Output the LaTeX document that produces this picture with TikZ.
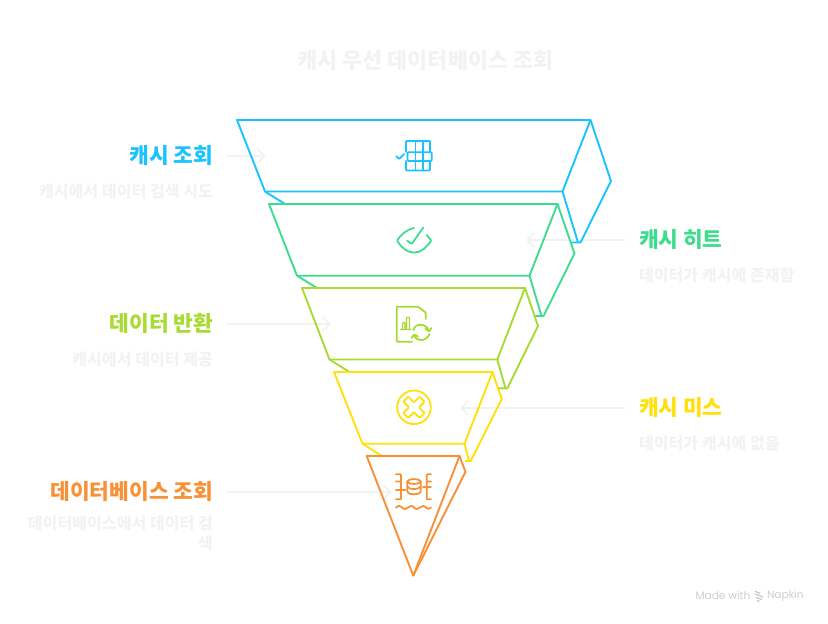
\documentclass[tikz,border=0pt]{standalone}
\usepackage{fontspec}
\setmainfont{Noto Sans CJK KR}
\newfontfamily\markfont{Poppins}
\usetikzlibrary{arrows.meta,positioning,calc}
\definecolor{cacheblue}{HTML}{1AC3FF}
\definecolor{hitgreen}{HTML}{3FDC90}
\definecolor{returnlime}{HTML}{A8DB32}
\definecolor{missyellow}{HTML}{FFE00A}
\definecolor{dborange}{HTML}{F89036}
\definecolor{pale}{HTML}{F2F2F2}
\definecolor{markgray}{HTML}{CDCDCD}
\newcommand{\HeadSize}{\fontsize{21.4}{25}\selectfont\bfseries}
\newcommand{\DescSize}{\fontsize{16.1}{19.5}\selectfont\bfseries}

\begin{document}
\begin{tikzpicture}[
  x=1pt,y=-1pt,
  every node/.style={inner sep=0pt,outer sep=0pt},
  arr/.style={pale,line width=1.8pt,-{Straight Barb[length=7pt,width=14pt,line width=1.8pt]}},
  face/.style={line width=1.9pt,line join=round},
  icon/.style={line width=1.8pt,line cap=round,line join=round,rounded corners=0.8pt},
  head/.style={font=\HeadSize,text height=18pt,text depth=4pt},
  desc/.style={font=\DescSize,text=pale,align=right}
]
\useasboundingbox (0,0) rectangle (828,624);

\node[font=\fontsize{21.8}{25}\selectfont\bfseries,text=pale] (titleText) at (425.5,60) {캐시 우선 데이터베이스 조회};

% labels on the left
\node[head,text=cacheblue,anchor=east] (queryLabel) at (213,156) {캐시 조회};
\node[desc,anchor=north east] (queryDesc) at (213,184) {캐시에서 데이터 검색 시도};
\node[head,text=returnlime,anchor=east] (returnLabel) at (213,324) {데이터 반환};
\node[desc,anchor=north east] (returnDesc) at (213,352) {캐시에서 데이터 제공};
\node[head,text=dborange,anchor=east] (dbLabel) at (213,492) {데이터베이스 조회};
\node[desc,anchor=north east] (dbDesc) at (213,516) {데이터베이스에서 데이터 검\\색};

% labels on the right
\node[head,text=hitgreen,anchor=west] (hitLabel) at (639,240) {캐시 히트};
\node[desc,anchor=north west] (hitDesc) at (639,268) {데이터가 캐시에 존재함};
\node[head,text=missyellow,anchor=west] (missLabel) at (639,408) {캐시 미스};
\node[desc,anchor=north west] (missDesc) at (639,436) {데이터가 캐시에 없음};

\coordinate (queryTip) at (266,156);
\coordinate (returnTip) at (331,324);
\coordinate (dbTip) at (392,492);
\coordinate (hitTip) at (526,240);
\coordinate (missTip) at (460,408);
\draw[arr] ([xshift=14pt]queryLabel.east) -- (queryTip);
\draw[arr] ([xshift=14pt]returnLabel.east) -- (returnTip);
\draw[arr] ([xshift=14pt]dbLabel.east) -- (dbTip);
\draw[arr] ([xshift=-14pt]hitLabel.west) -- (hitTip);
\draw[arr] ([xshift=-14pt]missLabel.west) -- (missTip);

% funnel slices
\draw[face,cacheblue] (237,120) -- (590.5,120) -- (562.5,191.5) -- (265,191.5) -- cycle;
\draw[face,cacheblue] (590.5,120) -- (611,181) -- (580.5,242.5) -- (570,242.5);
\draw[face,cacheblue] (562.5,191.5) -- (578,242.5);
\draw[face,cacheblue] (265,191.5) -- (285,204);

\draw[face,hitgreen] (269,204) -- (557.5,204) -- (529.5,275.7) -- (297,275.7) -- cycle;
\draw[face,hitgreen] (557.5,204) -- (574.5,253.5) -- (543.5,316) -- (535,316);
\draw[face,hitgreen] (529.5,275.7) -- (541.5,316);
\draw[face,hitgreen] (297,275.7) -- (317,288);

\draw[face,returnlime] (302,288) -- (525,288) -- (497.3,359.5) -- (329.5,359.5) -- cycle;
\draw[face,returnlime] (525,288) -- (538,326) -- (507.3,388.3) -- (498.5,388.3);
\draw[face,returnlime] (497.3,359.5) -- (505.5,388.3);
\draw[face,returnlime] (329.5,359.5) -- (349.5,372);

\draw[face,missyellow] (334,372) -- (492.5,372) -- (464.5,443.7) -- (362.5,443.7) -- cycle;
\draw[face,missyellow] (492.5,372) -- (501.7,399) -- (470.7,461) -- (465,461);
\draw[face,missyellow] (464.5,443.7) -- (469,461);
\draw[face,missyellow] (362.5,443.7) -- (382,456);

\draw[face,dborange] (366.7,456) -- (459.5,456) -- (413.3,575.7) -- cycle;
\draw[face,dborange] (459.5,456) -- (465.5,471.7) -- (413.3,575.7);

% table icon
\draw[icon,cacheblue] (406,152) -- (406,141) -- (430,141) -- (430,152);
\draw[icon,cacheblue] (406,161) -- (406,170.5) -- (430,170.5) -- (430,161);
\draw[icon,cacheblue] (407.5,152.3) rectangle (431.7,161);
\draw[icon,cacheblue,line width=1.4pt] (415.5,141) -- (415.5,170.5) (423,141) -- (423,170.5);
\draw[icon,cacheblue] (396.3,156.3) -- (399.3,159) -- (404,154);

% eye icon
\draw[icon,hitgreen] (414,228) .. controls (407,229.5) and (401,234.5) .. (397,240.5)
  .. controls (401,247) and (407,252.5) .. (414,252.5)
  .. controls (421,252.5) and (427,247) .. (431.3,240.5) -- (426.7,235);
\draw[icon,hitgreen] (407.3,240.7) -- (411.7,244) -- (423.3,227.5);

% document icon
\draw[icon,returnlime] (412,341.7) -- (396.7,341.7) -- (396.7,306.7) -- (418,306.7) -- (425.7,312.5) -- (425.7,319);
\draw[icon,returnlime,line width=1.4pt] (400.5,329.5) -- (411,329.5)
  (402.5,329.5) -- (402.5,322.5) -- (405,322.5) -- (405,329.5)
  (406.5,329.5) -- (406.5,317.5) -- (409.5,317.5) -- (409.5,329.5);
\draw[icon,returnlime] (413.5,330) .. controls (415,323) and (426,322.5) .. (429,331);
\draw[icon,returnlime] (425.5,328.5) -- (429,331.5) -- (431.5,328);
\draw[icon,returnlime] (414,335) .. controls (416,342) and (426,342) .. (429.5,334);
\draw[icon,returnlime] (411.5,338) -- (414,334.5) -- (418,336.5);

% cross icon
\draw[icon,missyellow] (414,407.3) circle[radius=16.8];
\draw[icon,missyellow,rounded corners=0.8pt,shift={(414,407.3)},rotate=45]
  (-3.5,-11.5) -- (3.5,-11.5) -- (3.5,-3.5) -- (11.5,-3.5) -- (11.5,3.5) -- (3.5,3.5)
  -- (3.5,11.5) -- (-3.5,11.5) -- (-3.5,3.5) -- (-11.5,3.5) -- (-11.5,-3.5) -- (-3.5,-3.5) -- cycle;

% database icon
\draw[icon,dborange] (396,474.3) -- (401,474.3) -- (401,499.3) -- (396,499.3)
  (396,481.5) -- (401,481.5) (396,490) -- (405.5,490);
\draw[icon,dborange] (431,474.3) -- (426.7,474.3) -- (426.7,499.3) -- (431,499.3)
  (431,481.5) -- (426.7,481.5) (423,487) -- (431,487);
\draw[icon,dborange] (414,481.5) ellipse[x radius=6.7,y radius=2.4];
\draw[icon,dborange] (407.3,481.5) -- (407.3,491.5) .. controls (409,495) and (419,495) .. (420.7,491.5) -- (420.7,481.5);
\draw[icon,dborange] (407.3,486.5) .. controls (409,490) and (419,490) .. (420.7,486.5);
\draw[icon,dborange] (396,507.5) .. controls (399,505.5) and (400,505.5) .. (402,507.5)
  .. controls (404,509.5) and (405,509.5) .. (408,507.5)
  .. controls (411,505.5) and (412,505.5) .. (414,507.5)
  .. controls (416,509.5) and (417,509.5) .. (420,507.5)
  .. controls (423,505.5) and (424,505.5) .. (426,507.5)
  .. controls (428,509.5) and (429,509) .. (431,507.5);

% maker mark
\node[font=\markfont\fontsize{10.6}{12}\selectfont,text=markgray,anchor=west] (madeText) at (695.5,596) {Made with};
\node[font=\markfont\fontsize{10.6}{12}\selectfont,text=markgray,anchor=west] (napkinText) at (767,596) {Napkin};
\draw[markgray,line width=1.4pt] (755,591) -- (760,593.5) (755,594) -- (763,597) (756,597.5) -- (762,599.5) (757,600.5) -- (759.5,601.5);
\end{tikzpicture}
\end{document}
